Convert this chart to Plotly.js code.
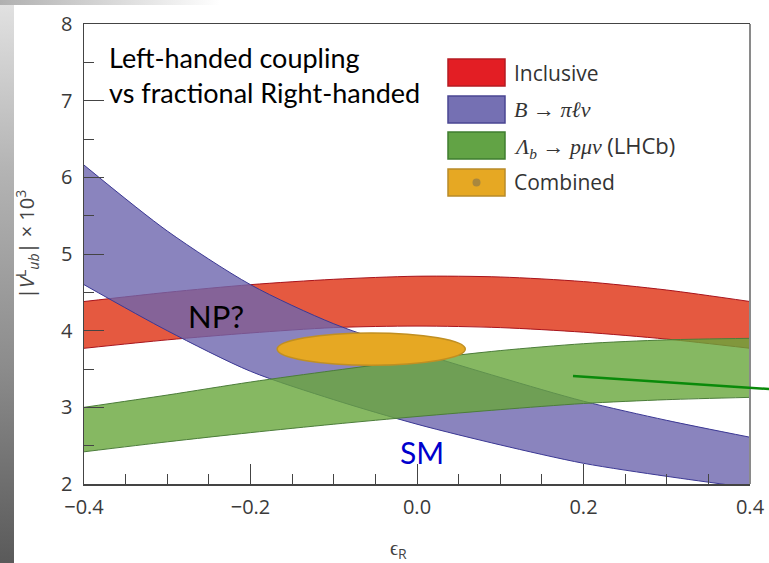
<!DOCTYPE html>
<html>
<head>
<meta charset="utf-8">
<script src="https://cdn.plot.ly/plotly-3.0.1.min.js"></script>
<style>
  html, body { margin: 0; padding: 0; background: #fff; }
  #wrap { position: relative; width: 769px; height: 563px; overflow: hidden; background: #fff; }
  #edgeL { position: absolute; left: 0; top: 0; width: 14px; height: 563px;
           background: linear-gradient(to bottom, #e2e2e2 0%, #b4b4b4 30%, #8c8c8c 65%, #5a5a5a 100%); }
  #edgeT { position: absolute; left: 0; top: 0; width: 220px; height: 5px;
           background: linear-gradient(to right, #b0b0b0, #ffffff); }
  #chart { position: absolute; left: 0; top: 0; width: 769px; height: 563px; }
</style>
</head>
<body>
<div id="wrap"><div id="edgeL"></div><div id="edgeT"></div><div id="chart"></div></div>
<script>
// epsilon_R sample points shared by all bands
const epsR = [-0.4, -0.3, -0.2, -0.1, 0.0, 0.1, 0.2, 0.3, 0.4];

// Inclusive |V_ub| band (x 10^3)
const inclusiveUpper = [4.38, 4.50, 4.60, 4.67, 4.71, 4.70, 4.64, 4.53, 4.38];
const inclusiveLower = [3.77, 3.88, 3.97, 4.04, 4.06, 4.04, 3.98, 3.89, 3.77];

// B -> pi l nu band
const bpiUpper = [6.16, 5.30, 4.60, 4.09, 3.72, 3.39, 3.08, 2.83, 2.61];
const bpiLower = [4.60, 4.00, 3.47, 3.10, 2.78, 2.51, 2.27, 2.10, 1.95];

// Lambda_b -> p mu nu (LHCb) band
const lambdaUpper = [3.00, 3.16, 3.33, 3.48, 3.62, 3.74, 3.83, 3.88, 3.90];
const lambdaLower = [2.42, 2.55, 2.67, 2.78, 2.88, 2.97, 3.05, 3.10, 3.13];

// Combined fit: central value and half-widths of the ellipse
const combinedCenter = [-0.055, 3.76];
const combinedHalf = [0.113, 0.21];

// Axis ticks
const xTicks = [-0.4, -0.2, 0.0, 0.2, 0.4];
const yTicks = [2, 3, 4, 5, 6, 7, 8];

// Legend entries
const legendLabels = [
  'Inclusive',
  '<i>B</i> → <i>πℓν</i>',
  '<i>Λ</i><sub><i>b</i></sub> → <i>pμν</i> <span style="font-family:Open Sans;font-style:normal">(LHCb)</span>',
  'Combined'
];

// Plot-area geometry (pixels) used for placing legend/notes in paper units
const W = 769, H = 563, L = 84, R = 750, T = 24, B = 484;
const px = v => (v - L) / (R - L);
const py = v => (B - v) / (B - T);

function band(lower, upper, fillColor, lineColor) {
  return [
    { x: epsR, y: lower, type: 'scatter', mode: 'lines', hoverinfo: 'skip',
      line: { color: lineColor, width: 1, shape: 'spline', smoothing: 0.8 },
      showlegend: false },
    { x: epsR, y: upper, type: 'scatter', mode: 'lines', fill: 'tonexty',
      fillcolor: fillColor, hoverinfo: 'skip',
      line: { color: lineColor, width: 1, shape: 'spline', smoothing: 0.8 },
      showlegend: false }
  ];
}

const traces = [
  ...band(inclusiveLower, inclusiveUpper, 'rgba(222,47,16,0.8)', '#a8141c'),
  ...band(bpiLower, bpiUpper, 'rgba(109,101,174,0.8)', '#3b3894'),
  ...band(lambdaLower, lambdaUpper, 'rgba(104,166,59,0.8)', '#4c7d3a'),
  { x: [combinedCenter[0]], y: [combinedCenter[1]], type: 'scatter', mode: 'markers',
    marker: { color: '#a9873e', size: 9 }, hoverinfo: 'skip', showlegend: false }
];

const legendColors = [
  { fill: '#e31e24', line: '#b51b22' },
  { fill: '#7570b3', line: '#4a4592' },
  { fill: '#62a345', line: '#3f7d2f' },
  { fill: '#e6a823', line: '#b88a2a' }
];
const legendRows = [72.5, 109.5, 145.5, 182.5];

const shapes = [
  // combined ellipse
  { type: 'circle', xref: 'x', yref: 'y', layer: 'above',
    x0: combinedCenter[0] - combinedHalf[0], x1: combinedCenter[0] + combinedHalf[0],
    y0: combinedCenter[1] - combinedHalf[1], y1: combinedCenter[1] + combinedHalf[1],
    fillcolor: '#e6a823', line: { color: '#c08f22', width: 1.5 } },
  // right frame edge
  { type: 'line', xref: 'paper', yref: 'paper', x0: 1, x1: 1, y0: 0, y1: 1,
    line: { color: '#8a8a8a', width: 2 } },
  // pointer line
  { type: 'line', xref: 'paper', yref: 'paper', layer: 'above',
    x0: px(573), y0: py(376), x1: px(772), y1: py(389.2),
    line: { color: '#0a8a0a', width: 2.5 } }
];
legendRows.forEach((cy, i) => {
  shapes.push({ type: 'rect', xref: 'paper', yref: 'paper', layer: 'above',
    x0: px(448), x1: px(505), y0: py(cy + 13.5), y1: py(cy - 13.5),
    fillcolor: legendColors[i].fill, line: { color: legendColors[i].line, width: 1.5 } });
});

const annotations = legendLabels.map((t, i) => ({
  xref: 'paper', yref: 'paper', x: px(512), y: py(legendRows[i]),
  xanchor: 'left', yanchor: 'middle', showarrow: false, text: t,
  font: i === 1 || i === 2
    ? { family: 'Liberation Serif', size: 22, color: '#333' }
    : { family: 'Open Sans', size: 21, color: '#333' }
}));

annotations.push(
  { xref: 'paper', yref: 'paper', x: px(107), y: py(57), xanchor: 'left', yanchor: 'middle',
    showarrow: false, text: 'Left-handed coupling',
    font: { family: 'Lato', size: 27, color: '#000' } },
  { xref: 'paper', yref: 'paper', x: px(107), y: py(92), xanchor: 'left', yanchor: 'middle',
    showarrow: false, text: 'vs fractional Right-handed',
    font: { family: 'Lato', size: 27, color: '#000' } },
  { xref: 'paper', yref: 'paper', x: px(216), y: py(316), xanchor: 'center', yanchor: 'middle',
    showarrow: false, text: 'NP?',
    font: { family: 'Lato', size: 31, color: '#000' } },
  { xref: 'paper', yref: 'paper', x: px(422), y: py(452), xanchor: 'center', yanchor: 'middle',
    showarrow: false, text: 'SM',
    font: { family: 'Lato', size: 30, color: '#0000cc' } },
  // axis titles
  { xref: 'paper', yref: 'paper', x: px(27), y: py(245), xanchor: 'center', yanchor: 'middle',
    showarrow: false, textangle: -90,
    text: '|<i>V</i><sup>L</sup><sub><i>ub</i></sub>| × 10<sup>3</sup>',
    font: { family: 'Open Sans', size: 20, color: '#444' } },
  { xref: 'paper', yref: 'paper', x: px(398), y: py(548), xanchor: 'center', yanchor: 'middle',
    showarrow: false, text: 'ϵ<sub>R</sub>',
    font: { family: 'Open Sans', size: 20, color: '#444' } }
);
// dot inside the Combined legend swatch
shapes.push({ type: 'circle', xref: 'paper', yref: 'paper', layer: 'above',
  x0: px(472.5), x1: px(480.5), y0: py(186.5), y1: py(178.5),
  fillcolor: '#a9873e', line: { width: 0 } });

const layout = {
  width: W, height: H,
  margin: { l: L, r: W - R, t: T, b: H - B, pad: 0 },
  paper_bgcolor: 'rgba(0,0,0,0)',
  plot_bgcolor: '#ffffff',
  showlegend: false,
  xaxis: {
    range: [-0.4, 0.4], tickvals: xTicks, tickformat: '.1f',
    ticks: 'inside', ticklen: 20, tickwidth: 1, tickcolor: '#444',
    minor: { dtick: 0.05, ticks: 'inside', ticklen: 10, tickwidth: 1, tickcolor: '#444', showgrid: false },
    showgrid: false, zeroline: false,
    showline: true, linecolor: '#444', linewidth: 1.5, mirror: true,
    tickfont: { family: 'Open Sans', size: 20, color: '#3a3a3a' },
    ticklabelstandoff: 4
  },
  yaxis: {
    range: [2, 8], tickvals: yTicks,
    ticks: 'inside', ticklen: 20, tickwidth: 1, tickcolor: '#444',
    minor: { dtick: 0.5, ticks: 'inside', ticklen: 10, tickwidth: 1, tickcolor: '#444', showgrid: false },
    showgrid: false, zeroline: false,
    showline: true, linecolor: '#444', linewidth: 1.5,
    tickfont: { family: 'Open Sans', size: 20, color: '#3a3a3a' },
    ticklabelstandoff: 6
  },
  shapes: shapes,
  annotations: annotations
};

Plotly.newPlot('chart', traces, layout, { displayModeBar: false, staticPlot: true });
</script>
</body>
</html>
